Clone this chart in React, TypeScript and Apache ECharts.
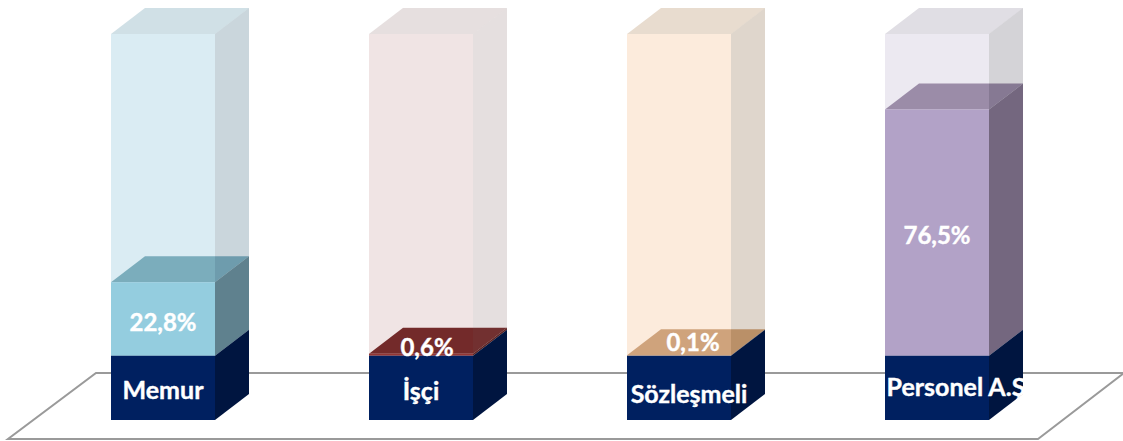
import React, { useEffect, useRef } from "react";
import * as echarts from "echarts";

const categories = ["Memur", "İşçi", "Sözleşmeli", "Personel A.Ş"];
const shares = [22.8, 0.6, 0.1, 76.5];
const shareLabels = ["22,8%", "0,6%", "0,1%", "76,5%"];

const frontColors = ["#94cddf", "#943634", "#d9a77c", "#b2a2c7"];
const sideColors = ["#5f818e", "#5e2322", "#8e6d50", "#74677f"];
const topColors = ["#7badbc", "#732a2a", "#cfa37c", "#9b8ca8"];
const ghostFrontColors = ["#daecf3", "#f0e4e4", "#fcebdc", "#ece9f1"];
const ghostSideColors = ["rgba(78,119,138,0.3)", "rgba(110,80,80,0.18)", "rgba(120,85,40,0.24)", "rgba(60,55,75,0.22)"];
const ghostTopColors = ["#d0e0e6", "#e6dfdf", "#e8dccf", "#e0dee4"];

const BAR_WIDTH = 104;
const DEPTH_X = 34;
const DEPTH_Y = 26;
const BASE_VALUE = -20;
const SHARE_FONT = 'bold 24px Lato, "Open Sans", sans-serif';
const NAME_FONT = 'bold 25px Lato, "Open Sans", sans-serif';

// label offsets from the bar centre / value-derived anchor
const shareLabelDx = [0, 6, 14, 0];
const shareLabelY = [321, 346, 341, 234];
const nameLabelDx = [0, 0, 10, 19];
const nameLabelY = [389, 390, 393, 386];

export default function App() {
  const ref = useRef<HTMLDivElement>(null);

  useEffect(() => {
    document.body.style.margin = "0";
    document.body.style.background = "#fff";
    const chart = echarts.init(ref.current!, undefined, { renderer: "svg" });

    const poly = (points: number[][], fill: string) => ({
      type: "polygon",
      shape: { points },
      style: { fill, stroke: "none" },
    });

    const prism = (x0: number, x1: number, yTop: number, yBot: number) => ({
      front: [[x0, yTop], [x1, yTop], [x1, yBot], [x0, yBot]],
      side: [[x1, yTop], [x1 + DEPTH_X, yTop - DEPTH_Y], [x1 + DEPTH_X, yBot - DEPTH_Y], [x1, yBot]],
      top: [[x0, yTop], [x1, yTop], [x1 + DEPTH_X, yTop - DEPTH_Y], [x0 + DEPTH_X, yTop - DEPTH_Y]],
    });

    const text = (s: string, x: number, y: number, font: string) => ({
      type: "text",
      z2: 10,
      style: {
        text: s, x, y, fill: "#ffffff", font, align: "center", verticalAlign: "middle",
        stroke: "#ffffff", lineWidth: 0.4,
      },
    });

    const renderItem = (params: any, api: any) => {
      const i = api.value(0);
      const v = api.value(1);
      const [cx, y0] = api.coord([i, 0]);
      const yV = api.coord([i, v])[1];
      const yMax = api.coord([i, 100])[1];
      const yBase = api.coord([i, BASE_VALUE])[1];
      const x0 = cx - BAR_WIDTH / 2;
      const x1 = cx + BAR_WIDTH / 2;
      const ghost = prism(x0, x1, yMax, y0);
      const fill = prism(x0, x1, yV, y0);
      const base = prism(x0, x1, y0, yBase);
      return {
        type: "group",
        children: [
          poly(ghost.front, ghostFrontColors[i]),
          poly(ghost.top, ghostTopColors[i]),
          poly(fill.top, topColors[i]),
          poly(ghost.side, ghostSideColors[i]),
          poly(fill.side, sideColors[i]),
          poly(fill.front, frontColors[i]),
          poly(base.side, "#001540"),
          poly(base.front, "#002060"),
          text(shareLabels[i], cx + shareLabelDx[i], shareLabelY[i], SHARE_FONT),
          text(categories[i], cx + nameLabelDx[i], nameLabelY[i], NAME_FONT),
        ],
      };
    };

    chart.setOption({
      animation: false,
      backgroundColor: "#ffffff",
      grid: { left: 34, top: 34, width: 1032, height: 386 },
      xAxis: { type: "category", data: categories, show: false },
      yAxis: { type: "value", min: BASE_VALUE, max: 100, show: false },
      graphic: [
        {
          type: "polygon",
          z: 0,
          shape: { points: [[96, 373], [1124, 373], [1038, 439], [8, 439]] },
          style: { fill: "#ffffff", stroke: "#9a9a9a", lineWidth: 2 },
        },
      ],
      series: [
        {
          type: "custom",
          z: 5,
          clip: false,
          silent: true,
          encode: { x: 0, y: 1 },
          data: shares.map((v, i) => [i, v]),
          renderItem,
        },
      ],
    });

    return () => chart.dispose();
  }, []);

  return (
    <div
      ref={ref}
      style={{ position: "absolute", left: 0, top: 0, width: 1123, height: 441, overflow: "hidden" }}
    />
  );
}
